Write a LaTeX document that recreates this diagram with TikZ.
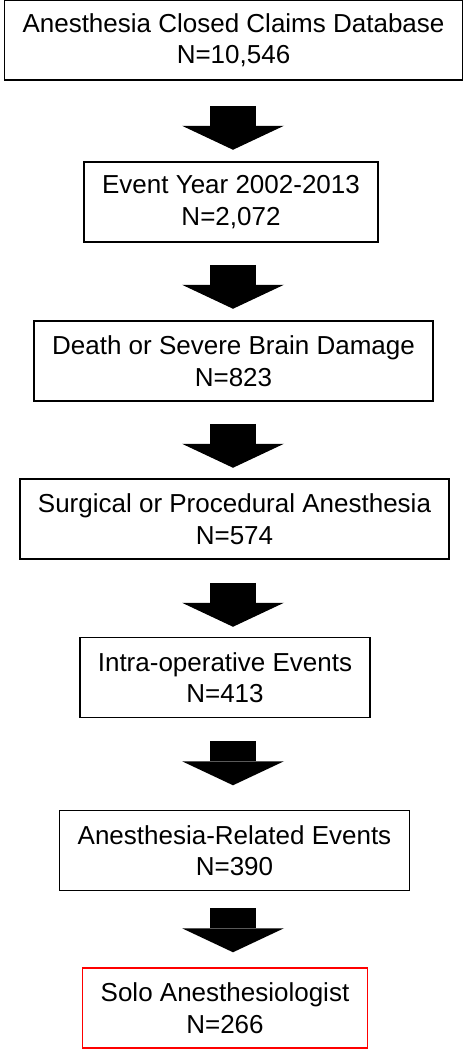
\documentclass[tikz,border=0pt]{standalone}
\usepackage{fontspec}
\setmainfont{Liberation Sans}
\usetikzlibrary{arrows.meta}

\begin{document}
\begin{tikzpicture}[x=1pt,y=-1pt]
    \tikzstyle{every node}=[font=\fontsize{26}{31.5}\selectfont]
    \tikzstyle{stage}=[draw, line width=1.5pt, align=center, inner xsep=18pt, minimum height=80pt,
        execute at begin node={\rule{0pt}{24pt}}]
    \tikzstyle{funnel}=[line width=46pt, -{Triangle[width=102pt,length=24pt,line width=0pt]}]

    \useasboundingbox (0,0) rectangle (467,1050);

    % Stages
    \node[stage] at (233.5,40) (St1) {Anesthesia Closed Claims Database\\N=10,546} ;
    \node[stage] at (231,202) (St2) {Event Year 2002-2013\\N=2,072} ;
    \node[stage] at (233.5,361) (St3) {Death or Severe Brain Damage\\N=823} ;
    \node[stage] at (234.5,519) (St4) {Surgical or Procedural Anesthesia\\N=574} ;
    \node[stage] at (225,677.5) (St5) {Intra-operative Events\\N=413} ;
    \node[stage] at (234.5,850.5) (St6) {Anesthesia-Related Events\\N=390} ;
    \node[stage, draw=red] at (225,1008) (St7) {Solo Anesthesiologist\\N=266} ;

    % Arrows
    \coordinate (Ax) at (233,0);
    \foreach \a/\t in {St1/25, St2/22, St3/22, St4/23, St5/23, St6/17}
        \draw[funnel] (\a.south -| Ax) ++(0,\t) -- ++(0,44);

\end{tikzpicture}
\end{document}
